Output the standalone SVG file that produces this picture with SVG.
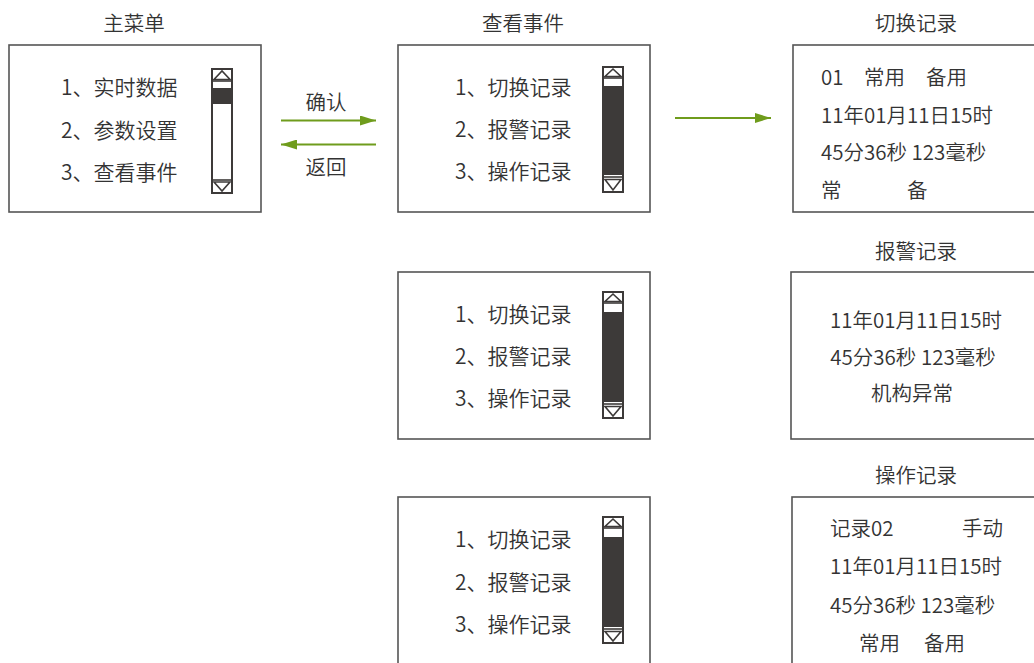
<svg xmlns="http://www.w3.org/2000/svg" width="1034" height="663" viewBox="0 0 1034 663">
<style>
text{font-family:"Noto Sans CJK SC","Liberation Sans",sans-serif;font-size:20.5px;font-weight:350;fill:#333}
.it{font-size:21px}
.box{fill:#fff;stroke:#555;stroke-width:1.6}
.sb{fill:#fff;stroke:#3d3a39;stroke-width:2}
.dk{fill:#3d3a39}
.tri{fill:#fff;stroke:#3d3a39;stroke-width:1.6}
.ln{stroke:#3d3a39;stroke-width:1.6}
.arr{stroke:#6f9c1c;stroke-width:2;fill:none}
.mid{text-anchor:middle}
</style>
<defs>
<marker id="ah" viewBox="0 0 16 10" refX="16" refY="5" markerWidth="16" markerHeight="10" markerUnits="userSpaceOnUse" orient="auto">
<path d="M0,0 L16,5 L0,10 Z" fill="#6f9c1c"/>
</marker>
</defs>
<rect width="1034" height="663" fill="#fff"/>

<g id="main-menu">
<text class="mid" x="134" y="31">主菜单</text>
<rect class="box" x="9" y="45" width="252" height="167"/>
<text class="it" x="61" y="94.5">1、实时数据</text>
<text class="it" x="61" y="137.5">2、参数设置</text>
<text class="it" x="61" y="179.5">3、查看事件</text>
<rect class="sb" x="212" y="69" width="20" height="124"/>
<rect class="dk" x="212" y="88" width="20" height="16"/>
<line class="ln" x1="212" y1="81" x2="232" y2="81"/>
<path class="tri" d="M214,79.5 L230,79.5 L222,71 Z"/>
<line class="ln" x1="212" y1="180" x2="232" y2="180"/>
<path class="tri" d="M214,182 L230,182 L222,191 Z"/>
</g>

<g id="view-events-1">
<text class="mid" x="523" y="31">查看事件</text>
<rect class="box" x="398" y="45" width="252" height="167"/>
<text class="it" x="455" y="94.5">1、切换记录</text>
<text class="it" x="455" y="136.5">2、报警记录</text>
<text class="it" x="455" y="178.5">3、操作记录</text>
<rect class="sb" x="603" y="67" width="20" height="125"/>
<rect class="dk" x="603" y="86" width="20" height="89"/>
<line class="ln" x1="603" y1="78" x2="623" y2="78"/>
<path class="tri" d="M605,76.5 L621,76.5 L613,69 Z"/>
<line class="ln" x1="603" y1="177" x2="623" y2="177"/>
<path class="tri" d="M605,179.5 L621,179.5 L613,190 Z"/>
</g>

<g id="view-events-2">
<rect class="box" x="398" y="272" width="252" height="167"/>
<text class="it" x="455" y="321.5">1、切换记录</text>
<text class="it" x="455" y="363.5">2、报警记录</text>
<text class="it" x="455" y="405.5">3、操作记录</text>
<rect class="sb" x="603" y="292" width="20" height="126"/>
<rect class="dk" x="603" y="312" width="20" height="90"/>
<line class="ln" x1="603" y1="303" x2="623" y2="303"/>
<path class="tri" d="M605,301.5 L621,301.5 L613,294 Z"/>
<line class="ln" x1="603" y1="404" x2="623" y2="404"/>
<path class="tri" d="M605,406.5 L621,406.5 L613,416 Z"/>
</g>

<g id="view-events-3">
<rect class="box" x="398" y="497" width="252" height="180"/>
<text class="it" x="455" y="546.5">1、切换记录</text>
<text class="it" x="455" y="589.5">2、报警记录</text>
<text class="it" x="455" y="631.5">3、操作记录</text>
<rect class="sb" x="603" y="517" width="20" height="126"/>
<rect class="dk" x="603" y="537" width="20" height="90"/>
<line class="ln" x1="603" y1="528" x2="623" y2="528"/>
<path class="tri" d="M605,526.5 L621,526.5 L613,519 Z"/>
<line class="ln" x1="603" y1="629" x2="623" y2="629"/>
<path class="tri" d="M605,631.5 L621,631.5 L613,641 Z"/>
</g>

<g id="switch-record">
<text class="mid" x="916" y="31">切换记录</text>
<rect class="box" x="793" y="45" width="300" height="167"/>
<text y="84.5"><tspan x="821">01</tspan><tspan x="864">常用</tspan><tspan x="926">备用</tspan></text>
<text x="821" y="122.5">11年01月11日15时</text>
<text x="821" y="159.5">45分36秒 123毫秒</text>
<text y="197.5"><tspan x="821">常</tspan><tspan x="907">备</tspan></text>
</g>

<g id="alarm-record">
<text class="mid" x="916" y="259">报警记录</text>
<rect class="box" x="791" y="272" width="300" height="167"/>
<text class="mid" x="916" y="327.5">11年01月11日15时</text>
<text class="mid" x="913" y="364.5">45分36秒 123毫秒</text>
<text class="mid" x="912" y="400.5">机构异常</text>
</g>

<g id="operation-record">
<text class="mid" x="916" y="483">操作记录</text>
<rect class="box" x="792" y="497" width="300" height="180"/>
<text y="535.5"><tspan x="830">记录02</tspan><tspan x="962">手动</tspan></text>
<text x="830" y="573.5">11年01月11日15时</text>
<text x="830" y="612.5">45分36秒 123毫秒</text>
<text y="650.5"><tspan x="859">常用</tspan><tspan x="924">备用</tspan></text>
</g>

<g id="connectors">
<line class="arr" x1="281" y1="120.5" x2="376" y2="120.5" marker-end="url(#ah)"/>
<text class="mid" x="326" y="110">确认</text>
<line class="arr" x1="376" y1="144.5" x2="281" y2="144.5" marker-end="url(#ah)"/>
<text class="mid" x="326" y="175">返回</text>
<line class="arr" x1="675" y1="118" x2="771" y2="118" marker-end="url(#ah)"/>
</g>
</svg>
